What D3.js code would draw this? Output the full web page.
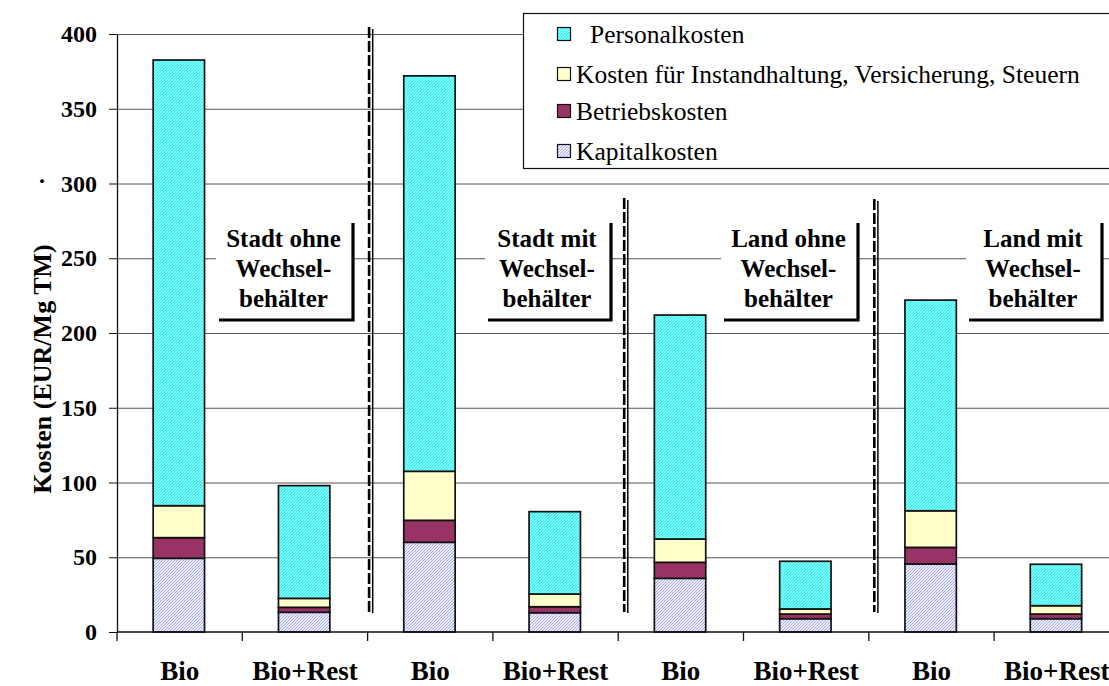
<!DOCTYPE html>
<html>
<head>
<meta charset="utf-8">
<script src="https://cdn.jsdelivr.net/npm/d3@7"></script>
<style>
  html, body { margin: 0; padding: 0; background: #fff; }
  svg { display: block; font-family: "Times New Roman", "Liberation Serif", serif; }
</style>
</head>
<body>
<svg id="chart" width="1109" height="686"></svg>
<script>
// Kosten je Sammelvariante, gestapelt nach Kostenart (EUR/Mg TM)
const categories = ["Bio", "Bio+Rest", "Bio", "Bio+Rest", "Bio", "Bio+Rest", "Bio", "Bio+Rest"];
const kapitalkosten    = [49.3, 13.2, 60.0, 12.9, 35.9, 8.9, 45.5, 8.9];
const betriebskosten   = [13.8, 3.3, 14.7, 4.0, 10.7, 3.1, 11.1, 3.1];
const instandhaltung   = [21.4, 6.0, 32.8, 8.5, 15.6, 3.4, 24.5, 5.6];
const personalkosten   = [298.1, 75.4, 264.5, 55.1, 149.8, 31.9, 140.9, 27.7];
const seriesNames = ["Kapitalkosten", "Betriebskosten", "Kosten für Instandhaltung, Versicherung, Steuern", "Personalkosten"];
const yTicks = [0, 50, 100, 150, 200, 250, 300, 350, 400];
const groupLabels = [
  ["Stadt ohne", "Wechsel-", "behälter"],
  ["Stadt mit", "Wechsel-", "behälter"],
  ["Land ohne", "Wechsel-", "behälter"],
  ["Land mit", "Wechsel-", "behälter"]
];
const yTitle = "Kosten (EUR/Mg TM)";

const FONT = "'Times New Roman', 'Liberation Serif', serif";
const svg = d3.select("#chart").attr("font-family", FONT);
const defs = svg.append("defs");

// fine hatch fills
function hatch(id, bg, fg) {
  const p = defs.append("pattern").attr("id", id)
    .attr("width", 3).attr("height", 3)
    .attr("patternUnits", "userSpaceOnUse");
  p.append("rect").attr("width", 3).attr("height", 3).attr("fill", bg);
  p.append("path").attr("d", "M0,3 L3,0 M-1,1 L1,-1 M2,4 L4,2")
    .attr("stroke", fg).attr("stroke-width", 0.9);
}
hatch("patPersonal", "#40f4f4", "#b8ffff");
hatch("patKapital", "#ececff", "#a4a4f0");

const fills = ["url(#patKapital)", "#993366", "#ffffcc", "url(#patPersonal)"];

const plotLeft = 117, plotTop = 34, plotBottom = 632, plotRightAxis = 1119.4;
const x = d3.scaleBand().domain(d3.range(categories.length)).range([plotLeft, plotRightAxis]).padding(0);
const y = d3.scaleLinear().domain([0, 400]).range([plotBottom, plotTop]);

// gridlines
svg.append("g").selectAll("line").data(yTicks.filter(d => d > 0)).join("line")
  .attr("x1", plotLeft).attr("x2", 1109)
  .attr("y1", d => y(d) + 0.5).attr("y2", d => y(d) + 0.5)
  .attr("stroke", "#555").attr("stroke-width", 1);

// stacked bars
const rows = categories.map((c, i) => ({
  i, Kapitalkosten: kapitalkosten[i], Betriebskosten: betriebskosten[i],
  "Kosten für Instandhaltung, Versicherung, Steuern": instandhaltung[i],
  Personalkosten: personalkosten[i]
}));
const stacked = d3.stack().keys(seriesNames)(rows);
const barW = x.bandwidth() * 0.41;
svg.append("g").selectAll("g").data(stacked).join("g")
  .attr("fill", (d, k) => fills[k])
  .selectAll("rect").data(d => d).join("rect")
  .attr("x", d => x(d.data.i) + (x.bandwidth() - barW) / 2 - 0.8)
  .attr("width", barW)
  .attr("y", d => y(d[1]))
  .attr("height", d => y(d[0]) - y(d[1]))
  .attr("stroke", "#111").attr("stroke-width", 1.7);

// y axis
const yAxis = svg.append("g").attr("transform", `translate(${plotLeft},0)`)
  .call(d3.axisLeft(y).tickValues(yTicks).tickSize(8).tickSizeOuter(0).tickPadding(12));
yAxis.attr("font-family", FONT);
yAxis.select(".domain").attr("stroke", "#111").attr("stroke-width", 1.3);
yAxis.selectAll(".tick line").attr("stroke", "#111");
yAxis.selectAll(".tick text")
  .attr("font-size", 24).attr("font-weight", "bold").attr("fill", "#000");

// x axis line with ticks at band boundaries
svg.append("line").attr("x1", plotLeft).attr("x2", 1109)
  .attr("y1", plotBottom).attr("y2", plotBottom).attr("stroke", "#111").attr("stroke-width", 1.3);
svg.append("g").selectAll("line").data(d3.range(categories.length + 1)).join("line")
  .attr("x1", i => plotLeft + i * x.step()).attr("x2", i => plotLeft + i * x.step())
  .attr("y1", plotBottom).attr("y2", plotBottom + 9)
  .attr("stroke", "#111").attr("stroke-width", 1.3);
svg.append("g").selectAll("text").data(categories).join("text")
  .attr("x", (d, i) => x(i) + x.bandwidth() / 2)
  .attr("y", 680)
  .attr("text-anchor", "middle").attr("font-size", 27).attr("font-weight", "bold")
  .text(d => d);

// y title
svg.append("text")
  .attr("transform", `translate(51,${(plotTop + plotBottom) / 2 + 36}) rotate(-90)`)
  .attr("text-anchor", "middle").attr("font-size", 26).attr("font-weight", "bold")
  .text(yTitle);
svg.append("text").attr("x", 42).attr("y", 181).attr("dy", "0.35em")
  .attr("text-anchor", "middle").attr("font-size", 24).attr("font-weight", "bold").text("·");

// group dividers (dashed + solid)
const dividers = [{ after: 2, top: 27, dx: 1.5 }, { after: 4, top: 198, dx: 6 }, { after: 6, top: 199, dx: 5.5 }];
dividers.forEach(dv => {
  const bx = plotLeft + dv.after * x.step() + dv.dx;
  svg.append("line").attr("x1", bx).attr("x2", bx).attr("y1", dv.top).attr("y2", 612)
    .attr("stroke", "#000").attr("stroke-width", 2.6).attr("stroke-dasharray", "11,3");
  svg.append("line").attr("x1", bx + 3.6).attr("x2", bx + 3.6).attr("y1", dv.top + 2).attr("y2", 613)
    .attr("stroke", "#000").attr("stroke-width", 1.5);
});

// group label boxes with shadow edge
const boxes = [[216, 353], [485, 611], [721, 858], [966, 1102]];
boxes.forEach((b, g) => {
  const gEl = svg.append("g");
  gEl.append("rect").attr("x", b[0]).attr("y", 222).attr("width", b[1] - b[0]).attr("height", 98).attr("fill", "#fff");
  gEl.append("path").attr("d", `M${b[1]},${223} V${320} H${b[0] + 3}`)
    .attr("fill", "none").attr("stroke", "#000").attr("stroke-width", 3.2);
  groupLabels[g].forEach((t, k) => {
    gEl.append("text").attr("x", (b[0] + b[1]) / 2 - 1).attr("y", 247 + k * 30)
      .attr("text-anchor", "middle").attr("font-size", 25).attr("font-weight", "bold").text(t);
  });
});

// legend
const lg = svg.append("g");
lg.append("rect").attr("x", 523.5).attr("y", 13.5).attr("width", 620).attr("height", 155)
  .attr("fill", "#fff").attr("stroke", "#111").attr("stroke-width", 1.2);
const legendOrder = [3, 2, 1, 0];
const legendY = [34, 74, 111, 151];
legendOrder.forEach((k, r) => {
  lg.append("rect").attr("x", 557.5).attr("y", legendY[r] - 6.5).attr("width", 13).attr("height", 13)
    .attr("fill", fills[k]).attr("stroke", "#111").attr("stroke-width", 1.2);
  lg.append("text").attr("x", k === 3 ? 590 : 576).attr("y", legendY[r]).attr("dy", "0.35em")
    .attr("font-size", 25.5).text(seriesNames[k]);
});
</script>
</body>
</html>
